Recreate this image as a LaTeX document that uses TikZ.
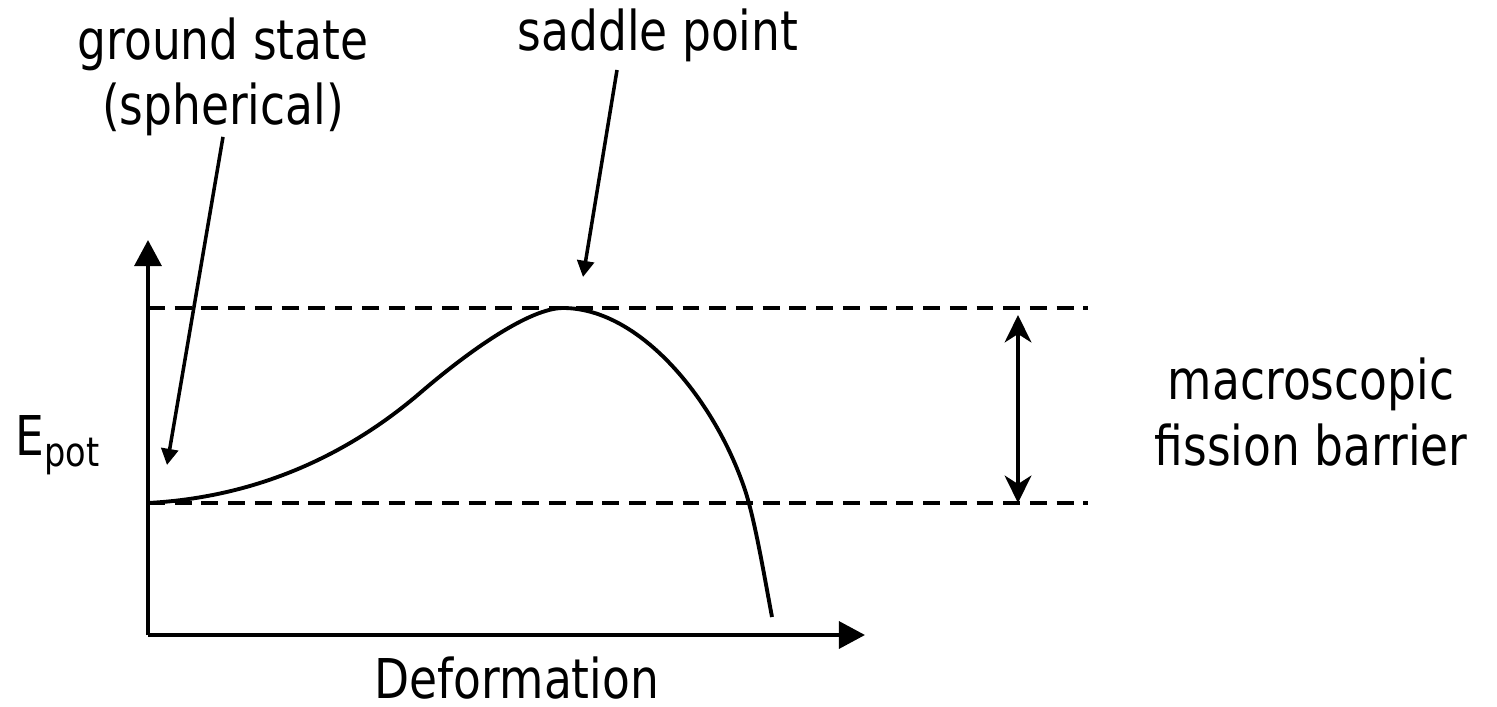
\documentclass[tikz,border=0pt]{standalone}
\usepackage{fontspec}
\setmainfont{DejaVu Sans}[FakeStretch=0.83]
\usetikzlibrary{arrows.meta, positioning}

\begin{document}
\begin{tikzpicture}[
  x=0.01cm, y=-0.01cm,
  font=\fontsize{15.6}{18.6}\selectfont,
  axis/.style = {line width=1.15pt, -{Triangle[length=7.4pt,width=7.6pt]}},
  level/.style = {line width=1.1pt, dash pattern=on 4.8pt off 2.8pt},
  pointer/.style = {line width=1pt, -{Triangle[length=4.6pt,width=4.8pt]}},
  barrier/.style = {line width=1pt, {Stealth[length=7.8pt,width=7.6pt,inset=2.4pt]}-{Stealth[length=7.8pt,width=7.6pt,inset=2.4pt]}},
  lbl/.style = {inner sep=0pt, align=center}
  ]
  \useasboundingbox (0,0) rectangle (1497,706);

  % axes
  \coordinate (origin) at (148,635);
  \coordinate (ytip) at (148,240);
  \coordinate (xtip) at (865,635);
  \draw[axis] (origin) -- (ytip);
  \draw[axis] (origin) -- (xtip);

  % energy levels
  \coordinate (top-l) at (148,308);
  \coordinate (top-r) at (1088,308);
  \coordinate (bot-l) at (148,503);
  \coordinate (bot-r) at (1088,503);
  \draw[level] (top-l) -- (top-r);
  \draw[level] (bot-l) -- (bot-r);

  % potential energy curve
  \coordinate (ground) at (148,503);
  \coordinate (saddle) at (563,308);
  \draw[line width=1.1pt, line join=round] (ground)
    .. controls (260,497) and (350,453) .. (420,393)
    .. controls (470,350) and (530,308) .. (saddle)
    .. controls (640,308) and (715,400) .. (745,490)
    .. controls (755,520) and (765,580) .. (772,617);

  % labels
  \node[lbl, anchor=north] (gs) at (223,17) {ground state\\(spherical)};
  \node[lbl, anchor=base] (sp) at (658,50) {saddle point};
  \node[lbl, anchor=base west] (epot) at (15,455) {E\raisebox{-3.4pt}{\fontsize{11.5}{13}\selectfont pot}};
  \node[lbl, anchor=base] (deform) at (517,698) {Deformation};
  \node[lbl] (fb) at (1311,412) {macroscopic\\fission barrier};

  % pointers
  \coordinate (gs-tip) at (167,465);
  \coordinate (sp-from) at (617,70);
  \coordinate (sp-tip) at (583,277);
  \draw[pointer] (gs.south) -- (gs-tip);
  \draw[pointer] (sp-from) -- (sp-tip);

  % barrier height
  \coordinate (bar-top) at (1018,315);
  \coordinate (bar-bot) at (1018,503);
  \draw[barrier] (bar-top) -- (bar-bot);
\end{tikzpicture}
\end{document}
